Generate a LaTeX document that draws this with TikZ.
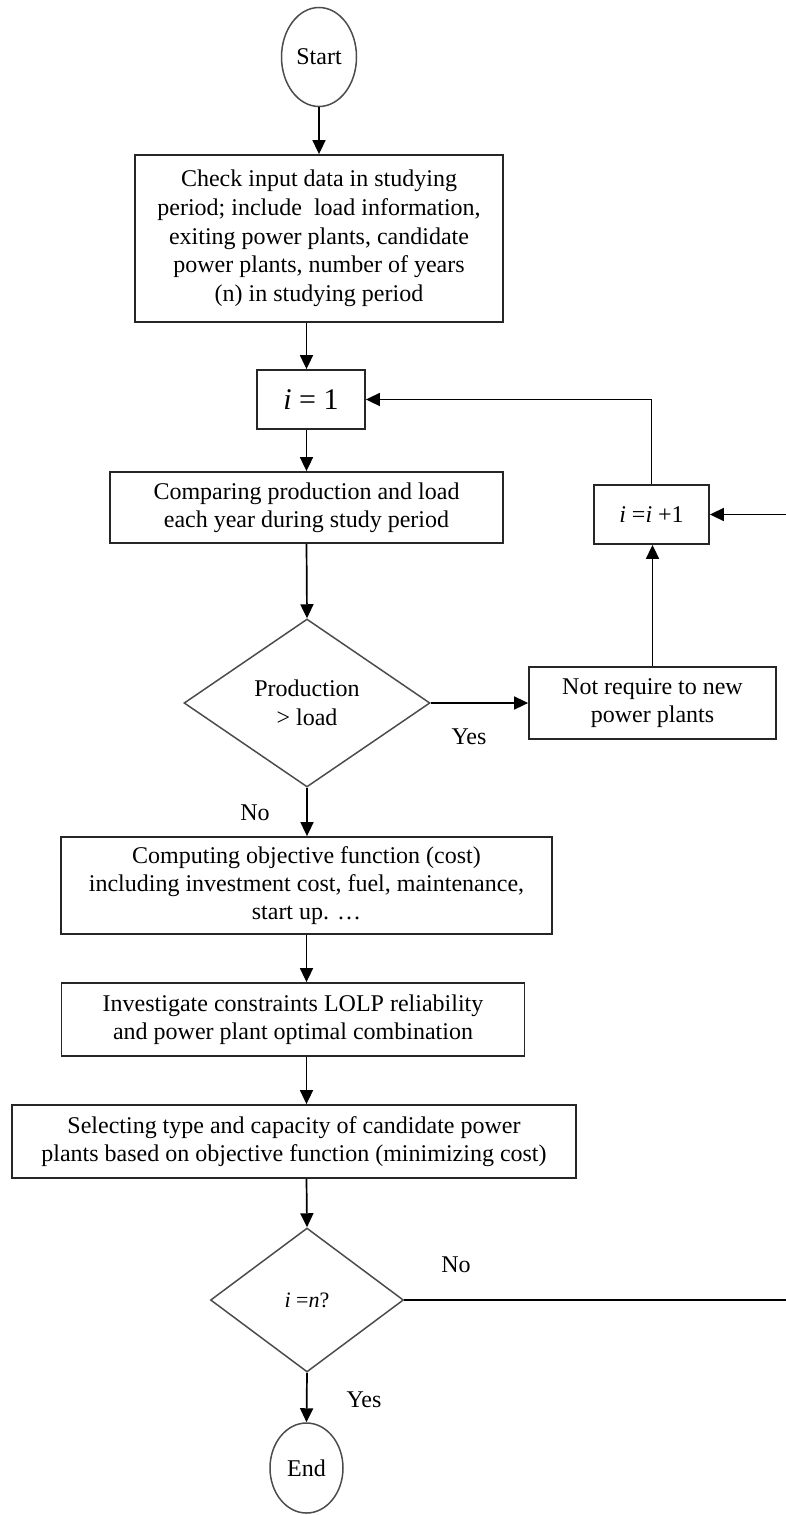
\documentclass[tikz,border=0pt]{standalone}
\usepackage{fontspec}
\setmainfont{Liberation Serif}
\usetikzlibrary{shapes.geometric,arrows.meta}
\begin{document}
\begin{tikzpicture}[x=1pt,y=-1pt,
  box/.style={draw=black!85,line width=1.8pt,rectangle,inner sep=0pt,align=center,
    font=\fontsize{24}{28}\selectfont},
  dia/.style={draw=black!70,line width=1.5pt,diamond,inner sep=0pt,align=center,
    font=\fontsize{24}{29}\selectfont},
  term/.style={draw=black!70,line width=1.5pt,ellipse,inner sep=0pt,
    font=\fontsize{24}{28}\selectfont},
  arr/.style={line width=1.7pt,-{Triangle[length=14pt,width=13pt]}},
  ln/.style={line width=1.7pt},
  lbl/.style={font=\fontsize{24}{28}\selectfont,inner sep=0pt}
]
\useasboundingbox (0,0) rectangle (786,1515);

\node[term,minimum width=75,minimum height=99] (start) at (319,57) {Start};
\node[box,minimum width=368,minimum height=167,font=\fontsize{24}{28.7}\selectfont] (input) at (319,238.5)
  {Check input data in studying\\period; include~ load information,\\exiting power plants, candidate\\power plants, number of years\\(n) in studying period};
\node[box,minimum width=108,minimum height=59,font=\fontsize{30}{30}\selectfont] (i1) at (311,399.5) {\textit{i} = 1};
\node[box,minimum width=393,minimum height=71] (comp) at (306.5,507.5)
  {Comparing production and load\\each year during study period};
\node[dia,minimum width=246,minimum height=168] (d1) at (307,703) {Production\\> load};
\node[box,minimum width=247,minimum height=72] (notreq) at (652.5,703) {Not require to new\\power plants};
\node[box,minimum width=115,minimum height=59] (inc) at (651.5,514.5) {\textit{i} =\textit{i} +1};
\node[box,minimum width=491,minimum height=97] (obj) at (306.5,885.5)
  {Computing objective function (cost)\\including investment cost, fuel, maintenance,\\start up. …};
\node[box,minimum width=463,minimum height=73] (inv) at (293,1019.5)
  {Investigate constraints LOLP reliability\\and power plant optimal combination};
\node[box,minimum width=564,minimum height=73] (sel) at (294,1141.5)
  {Selecting type and capacity of candidate power\\plants based on objective function (minimizing cost)};
\node[dia,minimum width=193,minimum height=144,font=\fontsize{22}{26}\selectfont] (d2) at (307,1300) {\textit{i} =\textit{n}?};
\node[term,minimum width=73,minimum height=90] (end) at (306.5,1468) {End};

\coordinate (r1) at (786,514.5);
\coordinate (r2) at (786,1300);

\node[lbl] (yes1) at (469,737) {Yes};
\node[lbl] (no1) at (255,813) {No};
\node[lbl] (no2) at (456,1265) {No};
\node[lbl] (yes2) at (364,1400) {Yes};

\draw[arr] (start.south) -- (input.north);
\draw[arr] (input.south -| comp.north) -- (i1.north -| comp.north);
\draw[arr] (i1.south -| comp.north) -- (comp.north);
\draw[arr] (comp.south) -- (d1.north);
\draw[arr] (d1.east) -- (notreq.west);
\draw[arr] (notreq.north) -- (notreq.north |- inc.south);
\draw[arr] (inc.north) |- (i1.east);
\draw[arr] (r1) -- (inc.east);
\draw[arr] (d1.south) -- (obj.north -| d1.south);
\draw[arr] (obj.south) -- (inv.north -| obj.south);
\draw[arr] (obj.south |- inv.south) -- (obj.south |- sel.north);
\draw[arr] (obj.south |- sel.south) -- (d2.north);
\draw[ln] (d2.east) -- (r2);
\draw[arr] (d2.south) -- (end.north);
\end{tikzpicture}
\end{document}
